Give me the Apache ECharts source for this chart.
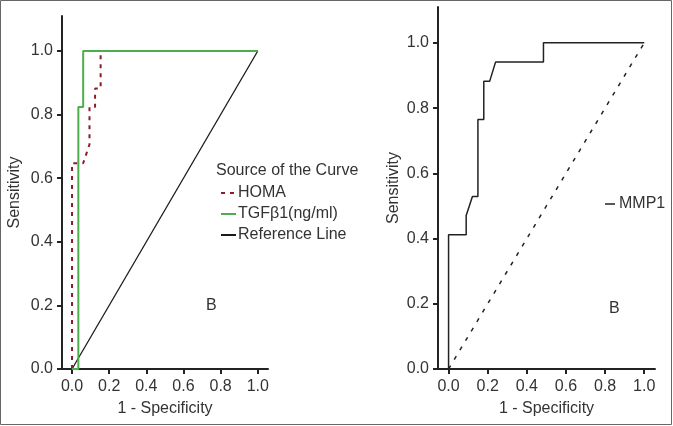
<!DOCTYPE html>
<html><head><meta charset="utf-8">
<script src="https://cdn.jsdelivr.net/npm/echarts@6/dist/echarts.min.js"></script>
<style>html,body{margin:0;padding:0;background:#fff}#c{width:673px;height:426px}</style>
</head><body><div id="c"></div>
<script>
const tickValues = [0, 0.2, 0.4, 0.6, 0.8, 1.0];
const homaX = [0, 0, 0.06, 0.094, 0.094, 0.124, 0.124, 0.154, 0.154, 1];
const homaY = [0, 0.647, 0.647, 0.706, 0.824, 0.824, 0.882, 0.882, 1, 1];
const tgfX = [0, 0.034, 0.034, 0.06, 0.06, 1];
const tgfY = [0, 0, 0.824, 0.824, 1, 1];
const refX = [0, 1];
const refY = [0, 1];
const mmpX = [0, 0, 0.09, 0.09, 0.122, 0.15, 0.15, 0.18, 0.18, 0.21, 0.24, 0.485, 0.485, 1];
const mmpY = [0, 0.412, 0.412, 0.471, 0.529, 0.529, 0.765, 0.765, 0.882, 0.882, 0.941, 0.941, 1, 1];

const pairs = (xs, ys) => xs.map((x, i) => [x, ys[i]]);
const FONT = 'Liberation Sans, Arial, sans-serif';
const TXT = '#333';

function xAxis(gi, gap) {
  return {
    type: 'value', gridIndex: gi, min: -0.054, max: 1.055,
    name: '1 - Specificity', nameLocation: 'middle', nameGap: gap,
    nameTextStyle: { fontSize: 16, color: TXT, fontFamily: FONT },
    axisLine: { show: true, onZero: false, lineStyle: { color: '#222', width: 2 } },
    axisTick: { show: true, length: 5, lineStyle: { color: '#222', width: 2 }, customValues: tickValues },
    axisLabel: { fontSize: 16, color: TXT, fontFamily: FONT, margin: 10, customValues: tickValues,
      formatter: v => v.toFixed(1) },
    splitLine: { show: false }
  };
}
function yAxis(gi, gap) {
  return {
    type: 'value', gridIndex: gi, min: 0, max: 1.11,
    name: 'Sensitivity', nameLocation: 'middle', nameGap: gap,
    nameTextStyle: { fontSize: 16, color: TXT, fontFamily: FONT },
    axisLine: { show: true, onZero: false, lineStyle: { color: '#222', width: 2 } },
    axisTick: { show: true, length: 5, lineStyle: { color: '#222', width: 2 }, customValues: tickValues },
    axisLabel: { fontSize: 16, color: TXT, fontFamily: FONT, margin: 9, customValues: tickValues,
      formatter: v => v.toFixed(1) },
    splitLine: { show: false }
  };
}

const chart = echarts.init(document.getElementById('c'), null, { renderer: 'canvas' });
chart.setOption({
  backgroundColor: '#fff',
  animation: false,
  grid: [
    { left: 62, top: 16, width: 206, height: 353 },
    { left: 438, top: 7, width: 217, height: 362 }
  ],
  xAxis: [xAxis(0, 32), xAxis(1, 32)],
  yAxis: [yAxis(0, 39), yAxis(1, 36)],
  title: {
    text: 'Source of the Curve', left: 216, top: 163,
    padding: 0,
    textStyle: { fontSize: 16, fontWeight: 'normal', color: TXT, fontFamily: FONT }
  },
  legend: [
    {
      data: ['HOMA', 'TGFβ1(ng/ml)', 'Reference Line'],
      orient: 'vertical', left: 220, top: 185, padding: 0,
      itemWidth: 15, itemHeight: 12, itemGap: 5,
      itemStyle: { color: 'transparent', borderWidth: 0, opacity: 0 },
      textStyle: { fontSize: 16, color: TXT, fontFamily: FONT, padding: [0, 0, 0, -3] }
    },
    {
      data: [{ name: 'MMP1', icon: 'rect' }],
      left: 605, top: 196, padding: 0,
      itemWidth: 10, itemHeight: 1.5,
      textStyle: { fontSize: 16, color: TXT, fontFamily: FONT, padding: [0, 0, 16, -1] }
    }
  ],
  graphic: [
    { type: 'text', left: 206, top: 298, style: { text: 'B', fontSize: 16, fill: TXT, fontFamily: FONT } },
    { type: 'text', left: 609, top: 301, style: { text: 'B', fontSize: 16, fill: TXT, fontFamily: FONT } },
    { type: 'rect', silent: true,
      shape: { x: 0.5, y: 0.5, width: 671, height: 424 },
      style: { fill: 'none', stroke: '#666', lineWidth: 1 } }
  ],
  series: [
    { name: 'Reference Line', type: 'line', xAxisIndex: 0, yAxisIndex: 0, symbol: 'none',
      data: pairs(refX, refY), lineStyle: { color: '#1a1a1a', width: 1.3 }, itemStyle: { color: '#1a1a1a' } },
    { name: 'HOMA', type: 'line', xAxisIndex: 0, yAxisIndex: 0, symbol: 'none',
      data: pairs(homaX, homaY), lineStyle: { color: '#8b1c2c', width: 2, type: [4, 5] }, itemStyle: { color: '#8b1c2c' } },
    { name: 'TGFβ1(ng/ml)', type: 'line', xAxisIndex: 0, yAxisIndex: 0, symbol: 'none',
      data: pairs(tgfX, tgfY), lineStyle: { color: '#4cae4c', width: 2 }, itemStyle: { color: '#4cae4c' } },
    { name: 'MMP1-ref', type: 'line', xAxisIndex: 1, yAxisIndex: 1, symbol: 'none',
      data: pairs(refX, refY), lineStyle: { color: '#222', width: 1.5, type: [4, 7] } },
    { name: 'MMP1', type: 'line', xAxisIndex: 1, yAxisIndex: 1, symbol: 'none',
      data: pairs(mmpX, mmpY), lineStyle: { color: '#222', width: 1.5 }, itemStyle: { color: '#222' } }
  ]
});
</script>
</body></html>
